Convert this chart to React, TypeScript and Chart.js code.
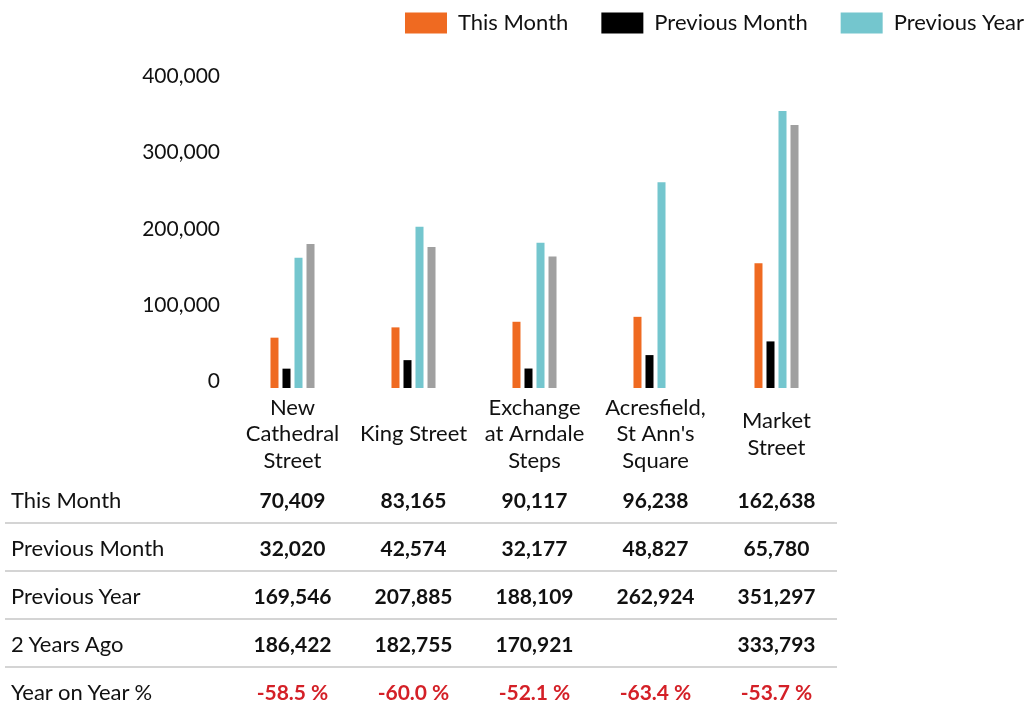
import React, { useEffect, useRef } from 'react';
import { Chart, registerables } from 'chart.js';

Chart.register(...registerables);

// ---- data ----
const categoryLabels: (string | string[])[] = [
  ['New', 'Cathedral', 'Street'],
  'King Street',
  ['Exchange', 'at Arndale', 'Steps'],
  ['Acresfield,', "St Ann's", 'Square'],
  ['Market', 'Street'],
];
const thisMonth = [70409, 83165, 90117, 96238, 162638];
const previousMonth = [32020, 42574, 32177, 48827, 65780];
const previousYear = [169546, 207885, 188109, 262924, 351297];
const twoYearsAgo: (number | null)[] = [186422, 182755, 170921, null, 333793];
const yearOnYear = ['-58.5 %', '-60.0 %', '-52.1 %', '-63.4 %', '-53.7 %'];
const yTickValues = [0, 100000, 200000, 300000, 400000];
const seriesNames = ['This Month', 'Previous Month', 'Previous Year', '2 Years Ago'];
const seriesColors = ['#EF6A21', '#000000', '#74C6CE', '#A0A0A0'];

const FONT = 'Lato, "Noto Sans", sans-serif';
const fmt = (v: number | null) => (v == null ? '' : v.toLocaleString('en-US'));

export default function App() {
  const canvasRef = useRef<HTMLCanvasElement | null>(null);

  useEffect(() => {
    const canvas = canvasRef.current;
    if (!canvas) return;
    const seriesData = [thisMonth, previousMonth, previousYear, twoYearsAgo];
    const chart = new Chart(canvas, {
      type: 'bar',
      data: {
        labels: categoryLabels,
        datasets: seriesData.map((d, i) => ({
          label: seriesNames[i],
          data: d,
          backgroundColor: seriesColors[i],
          borderWidth: 0,
          yAxisID: 'y',
          categoryPercentage: 0.397,
          barPercentage: 0.667,
        })),
      },
      options: {
        animation: false,
        responsive: false,
        maintainAspectRatio: false,
        layout: { padding: 0 },
        plugins: {
          legend: {
            position: 'top',
            align: 'end',
            labels: {
              boxWidth: 42,
              boxHeight: 21,
              padding: 33,
              color: '#111',
              font: { family: FONT, size: 22 },
              filter: (item: any) => item.datasetIndex < 3,
            },
          },
          tooltip: { enabled: false },
        },
        scales: {
          x: {
            grid: { display: false, drawTicks: false },
            border: { display: false },
            ticks: {
              color: '#111',
              font: { family: FONT, size: 22, lineHeight: 1.2 },
              padding: 20,
              maxRotation: 0,
              minRotation: 0,
              autoSkip: false,
              crossAlign: 'center',
            },
            afterFit: (s: any) => {
              s.height = 91;
            },
          },
          yl: {
            type: 'linear',
            position: 'left',
            min: -9200,
            max: 442840,
            grid: { display: false, drawTicks: false },
            border: { display: false },
            ticks: {
              color: '#111',
              font: { family: FONT, size: 21 },
              padding: 12,
              callback: (v: any) => Number(v).toLocaleString('en-US'),
            },
            afterBuildTicks: (s: any) => {
              s.ticks = yTickValues.map((v) => ({ value: v }));
            },
            afterFit: (s: any) => {
              s.width = 232;
            },
          },
          y: {
            type: 'linear',
            position: 'right',
            min: 8050,
            max: 434300,
            grid: { display: false, drawTicks: false },
            border: { display: false },
            ticks: { display: false },
            afterFit: (s: any) => {
              s.width = 220;
            },
          },
        },
      } as any,
    });
    return () => chart.destroy();
  }, []);

  const rows: { name: string; values: string[]; red?: boolean }[] = [
    { name: 'This Month', values: thisMonth.map(fmt) },
    { name: 'Previous Month', values: previousMonth.map(fmt) },
    { name: 'Previous Year', values: previousYear.map(fmt) },
    { name: '2 Years Ago', values: twoYearsAgo.map(fmt) },
    { name: 'Year on Year %', values: yearOnYear, red: true },
  ];

  return (
    <div
      style={{
        position: 'absolute',
        left: 0,
        top: 0,
        width: 1025,
        height: 715,
        overflow: 'hidden',
        background: '#fff',
        fontFamily: FONT,
      }}
    >
      <canvas
        ref={canvasRef}
        width={1057}
        height={500}
        style={{ position: 'absolute', left: 0, top: -21, width: 1057, height: 500 }}
      />
      <div style={{ position: 'absolute', left: 5, top: 476, width: 832 }}>
        {rows.map((r, ri) => (
          <div
            key={r.name}
            style={{
              display: 'grid',
              gridTemplateColumns: '227px repeat(5, 121px)',
              height: 46,
              alignItems: 'center',
              borderBottom: ri < rows.length - 1 ? '2px solid #d4d4d4' : '2px solid transparent',
            }}
          >
            <div style={{ paddingLeft: 6, fontSize: 22, color: '#111' }}>{r.name}</div>
            {r.values.map((v, vi) => (
              <div
                key={vi}
                style={{
                  textAlign: 'center',
                  fontSize: 21,
                  fontWeight: 700,
                  color: r.red ? '#D42027' : '#111',
                }}
              >
                {v}
              </div>
            ))}
          </div>
        ))}
      </div>
    </div>
  );
}
